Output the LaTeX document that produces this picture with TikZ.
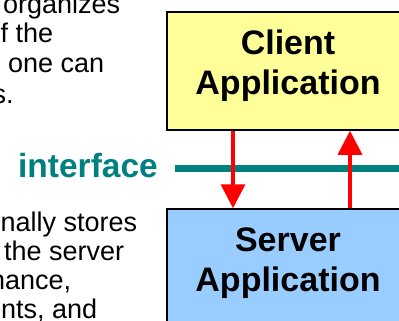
\documentclass[tikz,border=0pt]{standalone}
\usepackage{fontspec}
\setmainfont{Liberation Sans}
\usetikzlibrary{arrows.meta}
\definecolor{clientyellow}{rgb}{1,1,0.6}
\definecolor{serverblue}{rgb}{0.6,0.8,1}
\definecolor{ifteal}{rgb}{0,0.5,0.5}
\tikzset{
  appbox/.style={draw=black, line width=1.5pt, minimum width=242pt, minimum height=118pt},
  apptext/.style={align=center, inner sep=0pt, font=\fontsize{34pt}{40pt}\selectfont\bfseries},
  bodytext/.style={anchor=base west, inner sep=0pt, font=\fontsize{27pt}{30pt}\selectfont},
  flow/.style={red, line width=3.5pt, -{Triangle[width=24pt,length=24pt]}},
  busline/.style={ifteal, line width=7pt}
}
\begin{document}
\begin{tikzpicture}[x=1pt,y=-1pt]
  \useasboundingbox (0,0) rectangle (399,321);
  \clip (0,0) rectangle (399,321);

  % text on the left, cut by the frame
  \node[bodytext] (t1) at (3,14) {organizes};
  \node[bodytext] (t2) at (0.5,43) {f the};
  \node[bodytext] (t3) at (8,73) {one can};
  \node[bodytext] (t4) at (-7.5,103) {s.};
  \node[bodytext] (t5) at (0.5,231) {nally stores};
  \node[bodytext] (t6) at (4,260) {the server};
  \node[bodytext] (t7) at (-10,289) {nance,};
  \node[bodytext] (t8) at (1,318) {nts, and};

  % the two applications
  \node[appbox, fill=clientyellow] (client) at (288,71) {};
  \node[apptext] (clienttext) at ([yshift=5pt]client.center) {Client\\Application};
  \node[appbox, fill=serverblue] (server) at (288,268) {};
  \node[apptext] (servertext) at ([yshift=5pt]server.center) {Server\\Application};

  % interface
  \node[anchor=base east, inner sep=0pt, text=ifteal,
    font=\fontsize{33.5pt}{40pt}\selectfont\bfseries] (iflabel) at (158,177) {interface};
  \coordinate (ifleft) at (175,168);
  \draw[busline] (ifleft) -- (ifleft -| client.east);

  \draw[flow] ([xshift=-55pt]client.south) -- ([xshift=-55pt]server.north);
  \draw[flow] ([xshift=62pt]server.north) -- ([xshift=62pt]client.south);
\end{tikzpicture}
\end{document}
